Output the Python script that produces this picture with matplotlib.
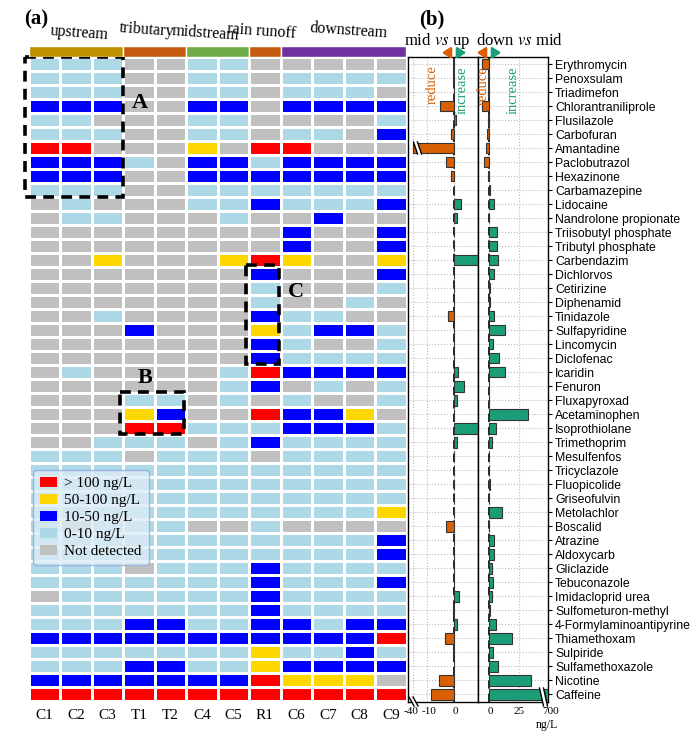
import numpy as np
import matplotlib
matplotlib.use("Agg")
import matplotlib.pyplot as plt
import matplotlib.transforms as mtransforms
from matplotlib.colors import ListedColormap
from matplotlib.patches import Patch, Rectangle, Polygon, FancyArrowPatch
from matplotlib.lines import Line2D

plt.rcParams['font.family'] = ['Liberation Serif', 'DejaVu Serif']
plt.rcParams['mathtext.fontset'] = 'stix'
plt.rcParams['axes.unicode_minus'] = False

# ---- data ----
sites = ["C1", "C2", "C3", "T1", "T2", "C4", "C5", "R1", "C6", "C7", "C8", "C9"]
group_names = ["upstream", "tributary", "midstream", "rain runoff", "downstream"]
group_sizes = [3, 2, 2, 1, 4]
group_colors = ["#BF9000", "#C55A11", "#70AD47", "#C55A11", "#7030A0"]

compounds = ["Erythromycin", "Penoxsulam", "Triadimefon", "Chlorantraniliprole",
             "Flusilazole", "Carbofuran", "Amantadine", "Paclobutrazol", "Hexazinone",
             "Carbamazepine", "Lidocaine", "Nandrolone propionate", "Triisobutyl phosphate",
             "Tributyl phosphate", "Carbendazim", "Dichlorvos", "Cetirizine", "Diphenamid",
             "Tinidazole", "Sulfapyridine", "Lincomycin", "Diclofenac", "Icaridin", "Fenuron",
             "Fluxapyroxad", "Acetaminophen", "Isoprothiolane", "Trimethoprim", "Mesulfenfos",
             "Tricyclazole", "Fluopicolide", "Griseofulvin", "Metolachlor", "Boscalid",
             "Atrazine", "Aldoxycarb", "Gliclazide", "Tebuconazole", "Imidacloprid urea",
             "Sulfometuron-methyl", "4-Formylaminoantipyrine", "Thiamethoxam", "Sulpiride",
             "Sulfamethoxazole", "Nicotine", "Caffeine"]

# G = not detected, L = 0-10, B = 10-50, Y = 50-100, R = >100 ng/L
levels = ["LLLGGLLGGGGG", "LLLGGLLGLLLL", "LLLGGLLGLLLG", "BBBGGBBGBBBB",
          "LLGGGLLGGGGL", "LLLGGLLGLLGB", "RRGGGYGRRGGG", "BBBLGBBLBBBB",
          "BBBGGBBBBBBB", "LLLGGLLLLLLL", "GLGGGLLBLLLB", "GLLGGGLGGBGG",
          "GGGGGGGGBGGB", "GGGGGGGGBGGB", "GGYGGGYRYGGY", "GGGGGGGBGGGB",
          "GGGGGGGLGGGL", "GGGGGGGLGGLG", "GGLGGGGBLLGG", "GGGBGGGYLBBL",
          "GGGGGGGBLGGL", "GGGGGGGBLLLL", "GLGGGGLRBBBB", "GGGGGGLBGLGL",
          "GGGLLGLGLGGL", "GGGYBGGRBBYG", "GGGRRLLLBBBL", "GGLLLGLBLLLL",
          "LLLGLLLGLLLL", "LLLLLLLLLLLL", "LLLLLLLLLLLL", "LLLLLLLLLLLL",
          "LLLLLLLLLLLY", "LGLLLGGLGGGG", "LLLLLLLLLLLB", "LLLLLLLLLLLB",
          "LLLGLLLBLLLL", "LLLLLLLBLLLB", "GLLLLLLBLLLL", "LLLLLLLBLLLL",
          "LLLBBLLBBLBB", "BBBBBBBBBBBR", "LLLLLLLYLLBL", "LLLBBLLYBBBB",
          "BBBBBBBRYYYG", "RRRRRRRRRRRR"]
level_codes = "GLBYR"
level_labels = ["Not detected", "0-10 ng/L", "10-50 ng/L", "50-100 ng/L", "> 100 ng/L"]
level_colors = ["#C0C0C0", "#ADD8E6", "#0000FF", "#FFD700", "#FF0000"]

mid_vs_up = [-0.6, -0.3, 0, -5.2, 0.5, -1.2, -40, -2.9, -1.2, 0, 2.5, 1.0, 0, 0, 9, 0,
             0, 0, -2.4, 0, 0, 0, 1.3, 3.4, 0.8, 0, 9, 0.8, 0, 0, 0, 0, 0, -3.1, 0, 0,
             -0.2, 0, 1.7, -0.6, 0.8, -3.4, -0.6, -0.2, -5.7, -8.5]
down_vs_mid = [-5.5, -1.1, -0.8, -6, -1.2, -1.3, -2.5, -4.1, -0.6, 0.6, 3.9, 0, 6.6, 6.6,
               7.7, 4.4, 1.1, 0.5, 4.1, 12.9, 3.6, 8.3, 12.9, 0.3, 0, 32.4, 5.5, 2.5, 0, 0,
               0.5, 0, 11, 0, 3.9, 4.1, 2.7, 3.3, 2.2, 0.5, 5.5, 18.7, 3.0, 7.2, 34.7, 705]

ORANGE = "#D95F02"
GREEN = "#1B9E77"

W, H = 700, 746
fig = plt.figure(figsize=(W / 100, H / 100), dpi=100)


def box(x0, y0, x1, y1):
    return [x0 / W, 1 - y1 / H, (x1 - x0) / W, (y1 - y0) / H]


def fp(x, y):
    return x / W, 1 - y / H


# ---- heatmap ----
n = len(compounds)
Z = np.array([[level_codes.index(c) for c in row] for row in levels])
axh = fig.add_axes(box(29, 57, 406.5, 701))
axh.pcolormesh(np.arange(len(sites) + 1), np.arange(n + 1), Z,
               cmap=ListedColormap(level_colors), vmin=-0.5, vmax=4.5,
               edgecolors="white", linewidth=0.8)
axh.set_xlim(0, len(sites))
axh.set_ylim(n, 0)
axh.set_yticks([])
axh.set_xticks(np.arange(len(sites)) + 0.5, sites, fontsize=11)
axh.tick_params(axis="x", length=0, pad=6)
for s in axh.spines.values():
    s.set_visible(False)

# dashed highlight boxes
for (x0, y0, x1, y1), lab, lx, ly in [((-0.13, 0, 2.98, 10), "A", 140, 103),
                                        ((2.9, 23.9, 4.94, 26.93), "B", 145, 378),
                                        ((6.9, 14.86, 7.96, 21.9), "C", 296, 292)]:
    axh.add_patch(Rectangle((x0, y0), x1 - x0, y1 - y0, fill=False, ec="black",
                            lw=2.6, ls=(0, (3, 2)), clip_on=False, zorder=5))
    fig.text(*fp(lx, ly), lab, fontsize=16, fontweight="bold", ha="center", va="center")

# group header
axt = fig.add_axes(box(29, 45.7, 406.5, 56.7))
start = 0
for size, col in zip(group_sizes, group_colors):
    axt.barh(0, size, left=start, height=1, color=col, edgecolor="white", linewidth=1)
    start += size
axt.set_xlim(0, len(sites))
axt.set_ylim(-0.5, 0.5)
axt.axis("off")
for name, (lx, ly) in zip(group_names, [(79, 33), (147, 30), (206, 33), (262, 31), (349, 31)]):
    fig.text(*fp(lx, ly), name, fontsize=11.5, ha="center", va="center", rotation=-4)

fig.text(*fp(36, 19), "(a)", fontsize=15, fontweight="bold", ha="center", va="center")
fig.text(*fp(432, 19), "(b)", fontsize=15, fontweight="bold", ha="center", va="center")

# legend
handles = [Patch(facecolor=c) for c in level_colors[::-1]]
leg = fig.legend(handles, level_labels[::-1], loc="upper left", bbox_to_anchor=fp(33, 470),
                 fontsize=11, handlelength=1.1, handleheight=0.6, labelspacing=0.25,
                 borderpad=0.45, handletextpad=0.5, borderaxespad=0, fancybox=True)
leg.get_frame().set_facecolor("#DCEBF4")
leg.get_frame().set_alpha(0.8)
leg.get_frame().set_edgecolor("#8FAADC")

# ---- change bars ----
L_vals, L_px = [-47, -40, -10, 0, 9], [408.3, 412.5, 426.7, 454.3, 479.1]
R_vals, R_px = [-8.8, 0, 42, 700, 712], [478.3, 489, 539.9, 548.0, 549.5]

axL = fig.add_axes(box(408.3, 57, 478.3, 701.5))
axR = fig.add_axes(box(478.3, 57, 548.3, 701.5))
axL.set_xscale("function", functions=(lambda v: np.interp(v, L_vals, L_px),
                                      lambda p: np.interp(p, L_px, L_vals)))
axR.set_xscale("function", functions=(lambda v: np.interp(v, R_vals, R_px),
                                      lambda p: np.interp(p, R_px, R_vals)))
axL.set_xlim(np.interp(408.3, L_px, L_vals), 8.7)
axR.set_xlim(-8.8, np.interp(548.3, R_px, R_vals))

ypos = np.arange(n)
for ax, vals, ticks, tlabels in [(axL, mid_vs_up, [-40, -10, 0], ["-40", "-10", "0"]),
                                 (axR, down_vs_mid, [0, 25, 700], ["0", "25", "700"])]:
    cols = [GREEN if v > 0 else ORANGE for v in vals]
    ax.barh(ypos, vals, height=0.75, color=cols, edgecolor="#333333", linewidth=0.8, zorder=3)
    ax.axvline(0, color="black", ls=(0, (5, 3)), lw=1.2, zorder=2)
    ax.set_ylim(n - 0.5, -0.5)
    ax.set_yticks(ypos)
    ax.set_xticks(ticks, tlabels, fontsize=8)
    ax.xaxis.set_minor_locator(matplotlib.ticker.NullLocator())
    ax.grid(True, ls=":", color="#BBBBBB", lw=0.8, zorder=0)
    ax.tick_params(axis="x", length=0, pad=4)
    for s in ax.spines.values():
        s.set_linewidth(1.0)

# nudge crowded tick labels apart
for lab, dx in zip(axL.get_xticklabels(), [-1, 2.5, 1]):
    lab.set_transform(lab.get_transform() + mtransforms.ScaledTranslation(dx / 100, 0, fig.dpi_scale_trans))
for lab, dx in zip(axR.get_xticklabels(), [1, 0, 3]):
    lab.set_transform(lab.get_transform() + mtransforms.ScaledTranslation(dx / 100, 0, fig.dpi_scale_trans))

axL.tick_params(axis="y", left=False, labelleft=False)
axR.yaxis.tick_right()
axR.set_yticklabels(compounds, fontsize=8.8, family="Liberation Sans")
axR.tick_params(axis="y", length=3, pad=2, labelleft=False)

fig.text(*fp(547, 725), "ng/L", fontsize=8.5, ha="center", va="center")
fig.text(*fp(437, 41), r"mid $\mathit{vs}$ up", fontsize=12, ha="center", va="center")
fig.text(*fp(519, 41), r"down $\mathit{vs}$ mid", fontsize=12, ha="center", va="center")

for x, y, t, c in [(432, 85, "reduce", ORANGE), (462, 90, "increase", GREEN),
                   (483, 86, "reduce", ORANGE), (513, 90, "increase", GREEN)]:
    fig.text(*fp(x, y), t, fontsize=10.5, color=c, rotation=90, ha="center", va="center")

for x0, x1, c in [(453, 439, ORANGE), (457, 469, GREEN), (487, 474, ORANGE), (491, 504, GREEN)]:
    fig.add_artist(FancyArrowPatch(
        fp(x0, 52.7), fp(x1, 52.7), transform=fig.transFigure, color=c,
        arrowstyle="-|>,head_width=3.2,head_length=5", lw=1.8, mutation_scale=1))


# axis / bar break marks
def break_mark(xa, ya, xb, yb, w=4):
    fig.add_artist(Polygon([fp(xa, ya), fp(xa + w, ya), fp(xb + w, yb), fp(xb, yb)],
                           closed=True, transform=fig.transFigure, fc="white", ec="none", zorder=10))
    for dx in (0, w):
        fig.add_artist(Line2D([fp(xa + dx, ya)[0], fp(xb + dx, yb)[0]],
                              [fp(xa + dx, ya)[1], fp(xb + dx, yb)[1]],
                              transform=fig.transFigure, color="black", lw=1.0, zorder=11))


break_mark(413.5, 142, 417.5, 154)
break_mark(409, 697, 414, 706)
break_mark(539.5, 688, 543.5, 706)

fig.savefig("out.png", dpi=100)
